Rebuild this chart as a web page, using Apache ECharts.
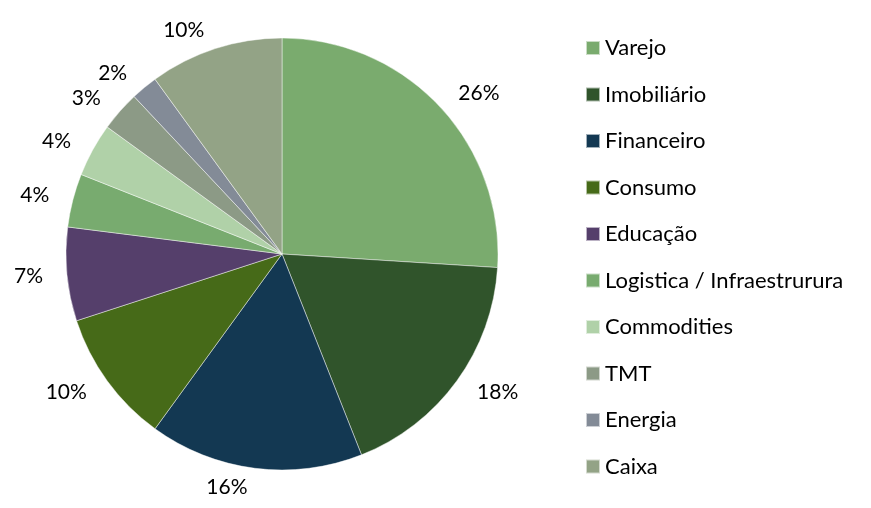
<!DOCTYPE html>
<html>
<head>
<meta charset="utf-8">
<script src="https://cdn.jsdelivr.net/npm/echarts@6/dist/echarts.min.js"></script>
<style>
  html, body { margin: 0; padding: 0; background: #fff; }
  #pie-chart { width: 871px; height: 508px; }
</style>
</head>
<body>
<div id="pie-chart"></div>
<script>
var sectors = ['Varejo', 'Imobiliário', 'Financeiro', 'Consumo', 'Educação',
    'Logistica / Infraestrurura', 'Commodities', 'TMT', 'Energia', 'Caixa'];
var shares = [26, 18, 16, 10, 7, 4, 4, 3, 2, 10];
var colors = ['#7aab6e', '#30542b', '#133852', '#466a18', '#553f6b',
    '#78ab6f', '#b0d1a8', '#8c9a86', '#838b97', '#93a386'];

var pieChart = echarts.init(document.getElementById('pie-chart'));

var pieData = sectors.map(function (name, i) {
    return { name: name, value: shares[i], itemStyle: { color: colors[i] } };
});

var option = {
    animation: false,
    textStyle: { fontFamily: 'Lato', color: '#000' },
    legend: {
        orient: 'vertical',
        left: 580,
        top: 30,
        icon: 'rect',
        itemWidth: 14,
        itemHeight: 14,
        itemGap: 20.5,
        textStyle: { fontSize: 22, lineHeight: 26, color: '#000', fontFamily: 'Lato' },
        data: sectors
    },
    series: [{
        type: 'pie',
        center: [282, 254],
        radius: [0, 216],
        startAngle: 90,
        clockwise: true,
        avoidLabelOverlap: false,
        itemStyle: { borderColor: 'rgba(255,255,255,0.6)', borderWidth: 0.75 },
        label: {
            show: true,
            position: 'outside',
            formatter: '{d}%',
            fontSize: 21,
            color: '#000',
            fontFamily: 'Lato'
        },
        labelLine: { show: false, length: 19, length2: 0 },
        data: pieData
    }]
};
pieChart.setOption(option);
</script>
</body>
</html>
